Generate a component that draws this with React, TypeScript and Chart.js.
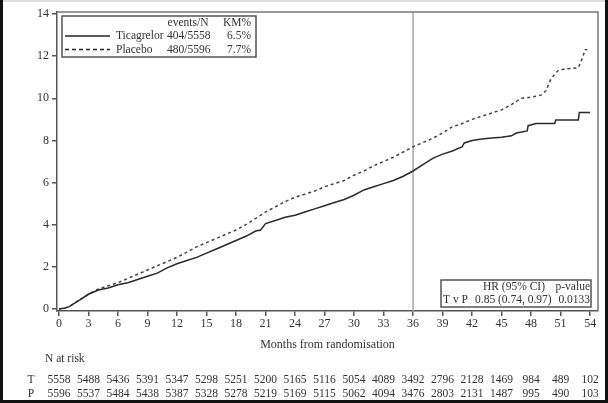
import React, { useEffect, useRef } from "react";
import { Chart, registerables } from "chart.js";

Chart.register(...registerables);

// Kaplan-Meier cumulative incidence (%) — Ticagrelor (solid)
const ticMonths = [0, 0.5, 1, 2, 3, 4, 5, 6, 7, 8, 9, 10, 11, 12, 13, 14, 15, 16, 17, 18, 19, 20, 20.5, 21, 22, 23, 24, 25, 26, 27, 28, 29, 30, 31, 32, 33, 34, 35, 36, 37, 38, 39, 40, 41, 41.2, 42, 43, 44, 45, 46, 46.5, 47.6, 47.7, 48.5, 50.4, 50.5, 52.8, 52.9, 54];
const ticValues = [0, 0.03, 0.1, 0.4, 0.7, 0.9, 1.0, 1.15, 1.25, 1.4, 1.55, 1.7, 1.95, 2.15, 2.3, 2.45, 2.65, 2.85, 3.05, 3.25, 3.45, 3.7, 3.75, 4.05, 4.2, 4.35, 4.45, 4.6, 4.75, 4.9, 5.05, 5.2, 5.4, 5.65, 5.8, 5.95, 6.1, 6.3, 6.55, 6.85, 7.15, 7.35, 7.5, 7.7, 7.88, 8.0, 8.07, 8.12, 8.15, 8.22, 8.35, 8.45, 8.7, 8.8, 8.8, 8.97, 8.97, 9.32, 9.32];

// Placebo (dashed)
const plaMonths = [0, 1, 2, 3, 4, 5, 6, 7, 8, 9, 10, 11, 12, 13, 14, 15, 16, 17, 18, 19, 20, 21, 22, 23, 24, 25, 26, 27, 28, 29, 30, 31, 32, 33, 34, 35, 36, 37, 38, 39, 40, 41, 42, 43, 44, 45, 46, 47, 48, 49, 49.5, 50, 50.7, 51.5, 52.8, 53.2, 53.5, 53.7];
const plaValues = [0, 0.1, 0.4, 0.7, 0.95, 1.1, 1.25, 1.45, 1.65, 1.85, 2.05, 2.25, 2.45, 2.7, 2.95, 3.15, 3.35, 3.55, 3.75, 4.0, 4.3, 4.6, 4.85, 5.1, 5.3, 5.45, 5.6, 5.8, 5.95, 6.1, 6.35, 6.55, 6.8, 7.0, 7.2, 7.45, 7.7, 7.9, 8.1, 8.35, 8.65, 8.8, 9.0, 9.15, 9.3, 9.45, 9.7, 10.0, 10.05, 10.15, 10.35, 10.9, 11.3, 11.4, 11.45, 11.9, 12.3, 12.3];

const xTicks = [0, 3, 6, 9, 12, 15, 18, 21, 24, 27, 30, 33, 36, 39, 42, 45, 48, 51, 54];
const yTicks = [0, 2, 4, 6, 8, 10, 12, 14];
const landmarkMonth = 36;

const riskT = [5558, 5488, 5436, 5391, 5347, 5298, 5251, 5200, 5165, 5116, 5054, 4089, 3492, 2796, 2128, 1469, 984, 489, 102];
const riskP = [5596, 5537, 5484, 5438, 5387, 5328, 5278, 5219, 5169, 5115, 5062, 4094, 3476, 2803, 2131, 1487, 995, 490, 103];

const legendRows = [
  { name: "Ticagrelor", events: "404/5558", km: "6.5%", dash: [] as number[] },
  { name: "Placebo", events: "480/5596", km: "7.7%", dash: [4, 3] },
];
const hrRow = { label: "T v P", hr: "0.85 (0.74, 0.97)", p: "0.0133" };

const FONT = "'Liberation Serif', 'Times New Roman', serif";
const TXT = "#333333";

export default function App() {
  const ref = useRef<HTMLCanvasElement | null>(null);

  useEffect(() => {
    document.body.style.margin = "0";
    const canvas = ref.current!;
    const overlay = {
      id: "overlay",
      beforeDatasetsDraw(chart: any) {
        const { ctx, chartArea, scales } = chart;
        const x = scales.x.getPixelForValue(landmarkMonth);
        ctx.save();
        ctx.strokeStyle = "#aaaaaa";
        ctx.lineWidth = 1.5;
        ctx.beginPath();
        ctx.moveTo(x, chartArea.top);
        ctx.lineTo(x, chartArea.bottom);
        ctx.stroke();
        ctx.restore();
      },
      afterDraw(chart: any) {
        const { ctx, chartArea, scales, width, height } = chart;
        ctx.save();
        // plot frame top/right
        ctx.strokeStyle = "#777777";
        ctx.lineWidth = 1.5;
        ctx.beginPath();
        ctx.moveTo(chartArea.left, chartArea.top);
        ctx.lineTo(chartArea.right, chartArea.top);
        ctx.lineTo(chartArea.right, chartArea.bottom);
        ctx.stroke();
        // outer image frame
        ctx.strokeStyle = "#dddddd";
        ctx.lineWidth = 2;
        ctx.beginPath();
        ctx.moveTo(0, 1);
        ctx.lineTo(width, 1);
        ctx.stroke();
        ctx.strokeStyle = "#111111";
        ctx.lineWidth = 3;
        ctx.beginPath();
        ctx.moveTo(1.5, 0);
        ctx.lineTo(1.5, height - 1.5);
        ctx.lineTo(width - 1.5, height - 1.5);
        ctx.lineTo(width - 1.5, 0);
        ctx.stroke();

        ctx.fillStyle = TXT;
        ctx.font = `12px ${FONT}`;
        ctx.textBaseline = "middle";
        // x title
        ctx.textAlign = "center";
        ctx.fillText("Months from randomisation", (chartArea.left + chartArea.right) / 2, 345);
        // N at risk
        ctx.font = `11.5px ${FONT}`;
        ctx.textAlign = "left";
        ctx.fillText("N at risk", 45, 359);
        ctx.textAlign = "center";
        ctx.fillText("T", 31, 380);
        ctx.fillText("P", 31, 394);
        xTicks.forEach((m, i) => {
          const px = scales.x.getPixelForValue(m);
          ctx.fillText(String(riskT[i]), px, 380);
          ctx.fillText(String(riskP[i]), px, 394);
        });

        // legend box
        ctx.strokeStyle = "#555555";
        ctx.lineWidth = 1.5;
        ctx.strokeRect(62, 16, 194, 41);
        ctx.font = `11.5px ${FONT}`;
        ctx.textAlign = "center";
        ctx.fillText("events/N", 188, 23);
        ctx.textAlign = "right";
        ctx.fillText("KM%", 251, 23);
        legendRows.forEach((r, i) => {
          const y = 36 + i * 13.5;
          ctx.save();
          ctx.strokeStyle = "#222222";
          ctx.lineWidth = 1.3;
          ctx.setLineDash(r.dash);
          ctx.beginPath();
          ctx.moveTo(65, y);
          ctx.lineTo(110, y);
          ctx.stroke();
          ctx.restore();
          ctx.textAlign = "left";
          ctx.fillText(r.name, 116, y);
          ctx.fillText(r.events, 167, y);
          ctx.textAlign = "right";
          ctx.fillText(r.km, 251, y);
        });

        // HR box
        ctx.strokeRect(441, 280, 150, 27);
        ctx.textAlign = "center";
        ctx.fillText("HR (95% CI)", 514, 287);
        ctx.textAlign = "right";
        ctx.fillText("p-value", 590, 287);
        ctx.textAlign = "left";
        ctx.fillText(hrRow.label, 443, 300);
        ctx.fillText(hrRow.hr, 475, 300);
        ctx.textAlign = "right";
        ctx.fillText(hrRow.p, 590, 300);
        ctx.restore();
      },
    };

    const chart = new Chart(canvas, {
      type: "line",
      data: {
        datasets: [
          {
            label: "Ticagrelor",
            data: ticMonths.map((m, i) => ({ x: m, y: ticValues[i] })),
            borderColor: "#2a2a2a",
            borderWidth: 1.5,
            pointRadius: 0,
            tension: 0,
          },
          {
            label: "Placebo",
            data: plaMonths.map((m, i) => ({ x: m, y: plaValues[i] })),
            borderColor: "#444444",
            borderWidth: 1.5,
            borderDash: [3, 3],
            pointRadius: 0,
            tension: 0,
          },
        ],
      },
      plugins: [overlay],
      options: {
        animation: false,
        responsive: false,
        maintainAspectRatio: false,
        layout: { padding: { top: 12, right: 10, left: 0, bottom: 0 } },
        plugins: { legend: { display: false }, tooltip: { enabled: false } },
        scales: {
          x: {
            type: "linear",
            min: -0.2,
            max: 54.8,
            afterBuildTicks: (s: any) => {
              s.ticks = xTicks.map((v) => ({ value: v }));
            },
            afterFit: (s: any) => {
              s.height = 92;
            },
            grid: { drawOnChartArea: false, drawTicks: true, tickLength: 5, color: "#555555", lineWidth: 1.5 },
            border: { display: true, color: "#555555", width: 1.5 },
            ticks: { color: TXT, font: { family: FONT, size: 12 }, padding: 1, maxRotation: 0, autoSkip: false },
          },
          y: {
            type: "linear",
            min: -0.095,
            max: 14.095,
            afterBuildTicks: (s: any) => {
              s.ticks = yTicks.map((v) => ({ value: v }));
            },
            afterFit: (s: any) => {
              s.width = 57;
            },
            grid: { drawOnChartArea: false, drawTicks: true, tickLength: 5, color: "#555555", lineWidth: 1.5 },
            border: { display: true, color: "#555555", width: 1.5 },
            ticks: { color: TXT, font: { family: FONT, size: 12 }, padding: 3 },
          },
        },
      },
    });
    return () => chart.destroy();
  }, []);

  return (
    <div style={{ position: "absolute", left: 0, top: 0, width: 608, height: 403 }}>
      <canvas ref={ref} width={608} height={403} style={{ width: 608, height: 403 }} />
    </div>
  );
}
